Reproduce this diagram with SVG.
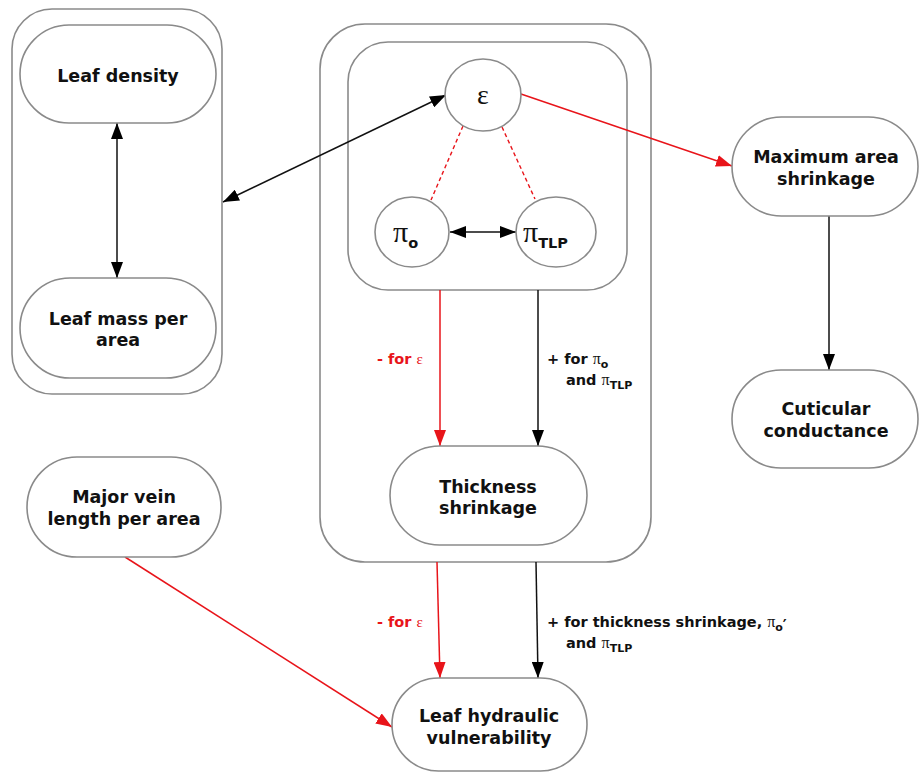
<svg xmlns="http://www.w3.org/2000/svg" width="920" height="774" viewBox="0 0 920 774">
<style>
.box{fill:none;stroke:#8a8a8a;stroke-width:1.6}
.node{fill:#fff;stroke:#8a8a8a;stroke-width:1.6}
.t{font-family:"DejaVu Sans",Verdana,sans-serif;font-weight:bold;font-size:17.5px;fill:#111;text-anchor:middle}
.g{font-family:"Liberation Serif","DejaVu Serif",serif;fill:#111}
.lb{font-family:"DejaVu Sans",Verdana,sans-serif;font-weight:bold;font-size:14.5px;fill:#111}
.red{fill:#e8141a}
.cb{stroke:#111;stroke-width:1.5;fill:none}
.cr{stroke:#e8141a;stroke-width:1.5;fill:none}
.dash{stroke:#e8141a;stroke-width:1.4;stroke-dasharray:4,3;fill:none}
</style>
<defs>
<marker id="ab" viewBox="0 0 16 12" refX="16" refY="6" markerWidth="16" markerHeight="12" markerUnits="userSpaceOnUse" orient="auto-start-reverse"><path d="M0,0 L16,6 L0,12 z" fill="#000"/></marker>
<marker id="ar" viewBox="0 0 16 12" refX="16" refY="6" markerWidth="16" markerHeight="12" markerUnits="userSpaceOnUse" orient="auto"><path d="M0,0 L16,6 L0,12 z" fill="#e8141a"/></marker>
</defs>
<rect width="920" height="774" fill="#fff"/>
<g id="group-left"><rect class="box" x="12" y="9" width="210" height="385" rx="40"/></g>
<g id="group-center"><rect class="box" x="320" y="24" width="331" height="538" rx="45"/></g>
<g id="group-inner"><rect class="box" x="348" y="42" width="279" height="248" rx="40"/></g>
<g id="connectors">
<line class="cb" x1="117" y1="123" x2="117" y2="278" marker-start="url(#ab)" marker-end="url(#ab)"/>
<line class="cb" x1="223" y1="202" x2="446" y2="95" marker-start="url(#ab)" marker-end="url(#ab)"/>
<line class="cb" x1="450" y1="232" x2="516" y2="232" marker-start="url(#ab)" marker-end="url(#ab)"/>
<line class="dash" x1="463" y1="126" x2="431" y2="200"/>
<line class="dash" x1="502" y1="127" x2="535" y2="199"/>
<line class="cr" x1="521" y1="94" x2="732" y2="166" marker-end="url(#ar)"/>
<line class="cb" x1="829" y1="216" x2="829" y2="370" marker-end="url(#ab)"/>
<line class="cr" x1="440" y1="290" x2="440" y2="446" marker-end="url(#ar)"/>
<line class="cb" x1="538" y1="290" x2="538" y2="446" marker-end="url(#ab)"/>
<line class="cr" x1="437" y1="562" x2="440" y2="678" marker-end="url(#ar)"/>
<line class="cb" x1="536" y1="562" x2="538" y2="678" marker-end="url(#ab)"/>
<line class="cr" x1="125" y1="557" x2="392" y2="727" marker-end="url(#ar)"/>
</g>
<g id="labels">
<text class="lb red" x="377" y="364">- for <tspan class="g red" font-weight="normal" font-size="15">ε</tspan></text>
<text class="lb" x="547" y="364">+ for <tspan class="g" font-weight="normal" font-size="16">π</tspan><tspan font-size="11" dy="4">o</tspan></text>
<text class="lb" x="566" y="385">and <tspan class="g" font-weight="normal" font-size="16">π</tspan><tspan font-size="11" dy="4">TLP</tspan></text>
<text class="lb red" x="377" y="627">- for <tspan class="g red" font-weight="normal" font-size="15">ε</tspan></text>
<text class="lb" x="547" y="627">+ for thickness shrinkage, <tspan class="g" font-weight="normal" font-size="16">π</tspan><tspan font-size="11" dy="4">o</tspan><tspan font-size="15">′</tspan></text>
<text class="lb" x="566" y="648">and <tspan class="g" font-weight="normal" font-size="16">π</tspan><tspan font-size="11" dy="4">TLP</tspan></text>
</g>
<g id="leaf-density"><rect class="node" x="20" y="25" width="196" height="98" rx="49"/><text class="t" x="118" y="82">Leaf density</text></g>
<g id="leaf-mass"><rect class="node" x="20" y="278" width="196" height="100" rx="50"/><text class="t" x="118" y="325">Leaf mass per</text><text class="t" x="118" y="346">area</text></g>
<g id="epsilon"><ellipse class="node" cx="483" cy="95" rx="38" ry="36"/><text class="g" x="483" y="104" font-size="28" text-anchor="middle">ε</text></g>
<g id="pi-o"><ellipse class="node" cx="412" cy="232" rx="37" ry="35"/><text class="g" x="393" y="242" font-size="30">π<tspan class="lb" font-size="18" dy="6">o</tspan></text></g>
<g id="pi-tlp"><ellipse class="node" cx="556" cy="232" rx="40" ry="35"/><text class="g" x="523" y="242" font-size="30">π<tspan class="lb" font-size="18" dy="6">TLP</tspan></text></g>
<g id="max-area"><rect class="node" x="732" y="117" width="186" height="99" rx="49.5"/><text class="t" x="826" y="163">Maximum area</text><text class="t" x="826" y="185">shrinkage</text></g>
<g id="cuticular"><rect class="node" x="732" y="370" width="186" height="98" rx="49"/><text class="t" x="826" y="415">Cuticular</text><text class="t" x="826" y="437">conductance</text></g>
<g id="thickness"><rect class="node" x="390" y="446" width="197" height="99" rx="49.5"/><text class="t" x="488" y="493">Thickness</text><text class="t" x="488" y="514">shrinkage</text></g>
<g id="major-vein"><rect class="node" x="27" y="457" width="194" height="100" rx="50"/><text class="t" x="124" y="503">Major vein</text><text class="t" x="124" y="525">length per area</text></g>
<g id="hydraulic"><rect class="node" x="392" y="678" width="195" height="93" rx="46.5"/><text class="t" x="489" y="722">Leaf hydraulic</text><text class="t" x="489" y="744">vulnerability</text></g>
</svg>
